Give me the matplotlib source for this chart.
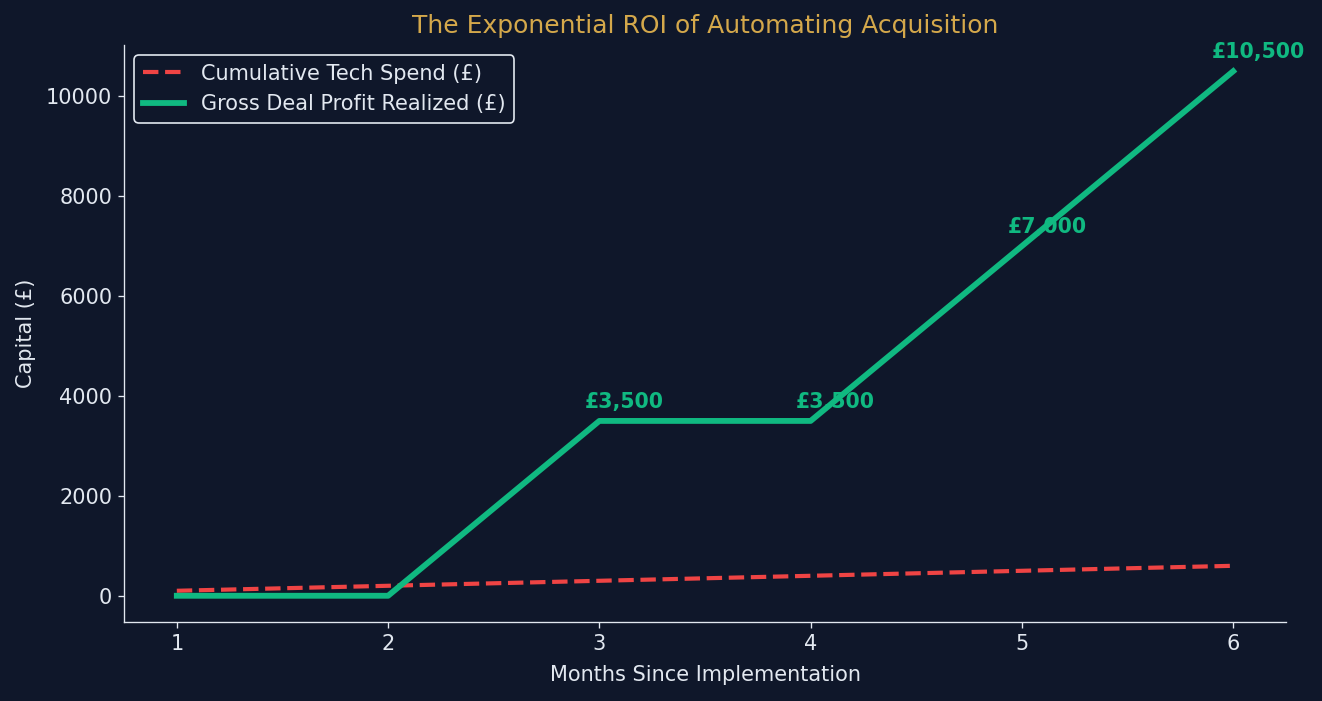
import matplotlib.pyplot as plt

plt.rcParams["font.family"] = ["DejaVu Sans"]

months = [1, 2, 3, 4, 5, 6]
tech_spend = [100, 200, 300, 400, 500, 600]
deal_profit = [0, 0, 3500, 3500, 7000, 10500]

bg = "#0f172a"
fg = "#e2e8f0"
red = "#ef4444"
green = "#10b981"
gold = "#d4a84b"

W, H = 1322, 701
fig = plt.figure(figsize=(W / 120, H / 120), dpi=120, facecolor=bg)
ax = fig.add_axes([124 / W, 1 - 622 / H, (1286 - 124) / W, (622 - 45) / H])
ax.set_facecolor(bg)

ax.plot(months, tech_spend, color=red, linestyle="--", linewidth=2.5, label="Cumulative Tech Spend (£)")
ax.plot(months, deal_profit, color=green, linewidth=3.5, label="Gross Deal Profit Realized (£)")

for m, p in zip(months, deal_profit):
    if p > 0:
        ax.annotate(f"£{p:,}", (m, p), xytext=(15, 8), textcoords="offset points",
                    ha="center", color=green, fontsize=12.3, fontweight="bold")

ax.set_title("The Exponential ROI of Automating Acquisition", color=gold, fontsize=15, pad=7)
ax.set_xlabel("Months Since Implementation", color=fg, fontsize=12.5, labelpad=7)
ax.set_ylabel("Capital (£)", color=fg, fontsize=12.5, labelpad=6)
ax.tick_params(colors=fg, labelsize=12.5)
ax.spines["top"].set_visible(False)
ax.spines["right"].set_visible(False)
ax.spines["left"].set_color(fg)
ax.spines["bottom"].set_color(fg)

leg = ax.legend(loc="upper left", fontsize=12.5, facecolor=bg, edgecolor=fg, framealpha=1)
for t in leg.get_texts():
    t.set_color(fg)

fig.savefig("out.png", facecolor=bg)
